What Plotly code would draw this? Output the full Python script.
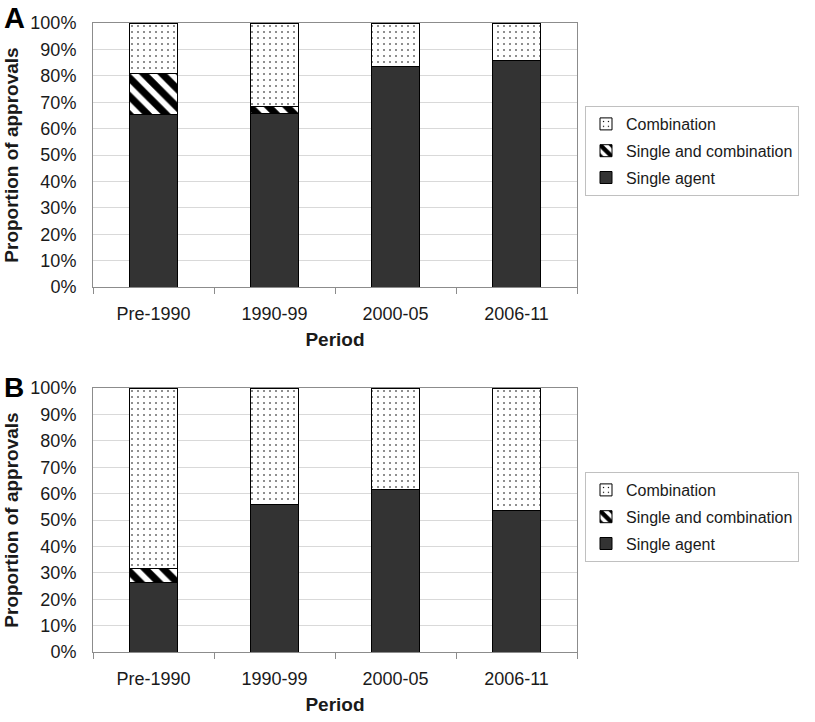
import plotly.graph_objects as go

periods = ["Pre-1990", "1990-99", "2000-05", "2006-11"]

# Panel A values (% of approvals)
a_single = [65.5, 65.6, 83.5, 85.8]
a_both = [15.3, 2.8, 0.0, 0.0]
a_combo = [19.2, 31.6, 16.5, 14.2]

# Panel B values (% of approvals)
b_single = [26.5, 55.8, 61.5, 53.5]
b_both = [5.0, 0.0, 0.0, 0.0]
b_combo = [68.5, 44.2, 38.5, 46.5]

y_ticks = [0, 10, 20, 30, 40, 50, 60, 70, 80, 90, 100]
y_tick_labels = [f"{v}%" for v in y_ticks]

W, H = 815, 722
FONT = "Liberation Sans, Arial, sans-serif"
TXT = "#1a1a1a"

series_names = ["Single agent", "Single and combination", "Combination"]
legend_ranks = [3, 2, 1]

def px_x(p):
    return p / W

def px_y(p):
    return 1 - p / H

fig = go.Figure()

def add_panel(values, xa, ya, legend, tag):
    styles = [
        dict(color="#333333", pattern=None),
        dict(color="white", pattern=dict(shape="\\", fgcolor="black", bgcolor="white",
                                         fgopacity=1, size=13, solidity=0.55)),
        dict(color="white", pattern=dict(shape=".", fgcolor="black", bgcolor="white",
                                         fgopacity=1, size=6, solidity=0.06)),
    ]
    for i, (name, vals, st) in enumerate(zip(series_names, values, styles)):
        marker = dict(color=st["color"], line=dict(color="black", width=1))
        if st["pattern"]:
            marker["pattern"] = st["pattern"]
        fig.add_trace(go.Bar(
            x=periods, y=vals, name=name, marker=marker, width=0.4,
            xaxis=xa, yaxis=ya, legend=legend, legendgroup=f"{tag}{i}",
            legendrank=legend_ranks[i],
        ))

add_panel([a_single, a_both, a_combo], "x", "y", "legend", "a")
add_panel([b_single, b_both, b_combo], "x2", "y2", "legend2", "b")

xcommon = dict(
    type="category", showline=True, linecolor="#8c8c8c", linewidth=1, mirror=True,
    ticks="outside", tickson="boundaries", ticklen=6, tickcolor="#8c8c8c",
    tickfont=dict(family=FONT, size=18, color=TXT), showgrid=False, automargin=False,
    ticklabelstandoff=10,
    title=dict(text="<b>Period</b>", font=dict(family=FONT, size=19, color=TXT), standoff=10),
)
ycommon = dict(
    range=[0, 100], tickmode="array", tickvals=y_ticks, ticktext=y_tick_labels,
    showline=True, linecolor="#8c8c8c",
    linewidth=1, mirror=True, showgrid=True, gridcolor="#d9d9d9", gridwidth=1,
    ticks="", ticklabelstandoff=12, zeroline=False, automargin=False,
    tickfont=dict(family=FONT, size=18, color=TXT),
    title=dict(text="<b>Proportion of approvals</b>", font=dict(family=FONT, size=19, color=TXT), standoff=6),
)

legend_common = dict(
    xanchor="left", yanchor="top", traceorder="grouped", tracegroupgap=3,
    bordercolor="#c0c0c0", borderwidth=1, bgcolor="white",
    font=dict(family=FONT, size=16, color=TXT),
)

fig.update_layout(
    width=W, height=H, margin=dict(l=0, r=0, t=0, b=0, autoexpand=False),
    paper_bgcolor="white", plot_bgcolor="white",
    barmode="stack", bargap=0.6,
    font=dict(family=FONT, color=TXT),
    xaxis=dict(domain=[px_x(93), px_x(577)], anchor="y", **xcommon),
    yaxis=dict(domain=[px_y(287), px_y(23)], anchor="x", **ycommon),
    xaxis2=dict(domain=[px_x(93), px_x(577)], anchor="y2", **xcommon),
    yaxis2=dict(domain=[px_y(652), px_y(388)], anchor="x2", **ycommon),
    legend=dict(x=px_x(585), y=px_y(106), **legend_common),
    legend2=dict(x=px_x(585), y=px_y(472), **legend_common),
    annotations=[
        dict(text="<b>A</b>", x=px_x(2), y=px_y(0), xref="paper", yref="paper", xanchor="left",
             yanchor="top", showarrow=False, font=dict(family=FONT, size=29, color="black")),
        dict(text="<b>B</b>", x=px_x(2), y=px_y(370), xref="paper", yref="paper", xanchor="left",
             yanchor="top", showarrow=False, font=dict(family=FONT, size=28, color="black")),
    ],
)

fig.write_html("out.html", config={"displayModeBar": False},
               post_script="document.body.style.margin='0';")
